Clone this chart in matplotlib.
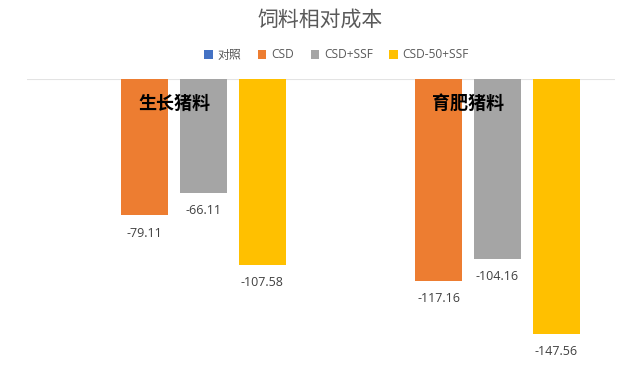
import numpy as np
import matplotlib.pyplot as plt

plt.rcParams['font.family'] = ['Open Sans', 'Noto Sans CJK SC', 'DejaVu Sans']

categories = ["生长猪料", "育肥猪料"]
series_names = ["对照", "CSD", "CSD+SSF", "CSD-50+SSF"]
values = {
    "对照": [0, 0],
    "CSD": [-79.11, -117.16],
    "CSD+SSF": [-66.11, -104.16],
    "CSD-50+SSF": [-107.58, -147.56],
}
colors = ["#4472C4", "#ED7D31", "#A5A5A5", "#FFC000"]

fig = plt.figure(figsize=(6.4, 3.81), dpi=100)
ax = fig.add_axes([27 / 640, 1 - 355 / 381, 588 / 640, 276 / 381])

x = np.arange(len(categories))
step = 0.2
width = 0.16
for i, name in enumerate(series_names):
    pos = x + (i - 1.5) * step
    vals = values[name]
    ax.bar(pos, vals, width=width, color=colors[i], label=name, zorder=2)
    if name != "对照":
        for p, v in zip(pos, vals):
            ax.annotate(f"{v:.2f}", (p, v), xytext=(0, -8), textcoords="offset points",
                        ha="center", va="top", fontsize=9, color="#404040")

ax.set_xlim(-0.5, 1.5)
ax.set_ylim(-160, 0)
ax.axhline(0, color="#E3E3E3", lw=0.8, zorder=1)
for s in ax.spines.values():
    s.set_visible(False)
ax.set_xticks([])
ax.set_yticks([])

for xi, cat in zip(x, categories):
    ax.text(xi, -14, cat, ha="center", va="center", fontsize=13, fontweight="bold",
            color="black", family=["Noto Sans CJK SC"], zorder=3)

fig.text(0.5, 1 - 20 / 381, "饲料相对成本", ha="center", va="center", fontsize=15,
         color="#595959", family=["Noto Sans CJK SC"])
fig.legend(loc="center", bbox_to_anchor=(0.526, 1 - 55 / 381), ncol=4, frameon=False,
           fontsize=8.6, labelcolor="#595959", handlelength=0.7, handleheight=0.7,
           columnspacing=1.4, handletextpad=0.4)

fig.savefig("out.png", dpi=100)
